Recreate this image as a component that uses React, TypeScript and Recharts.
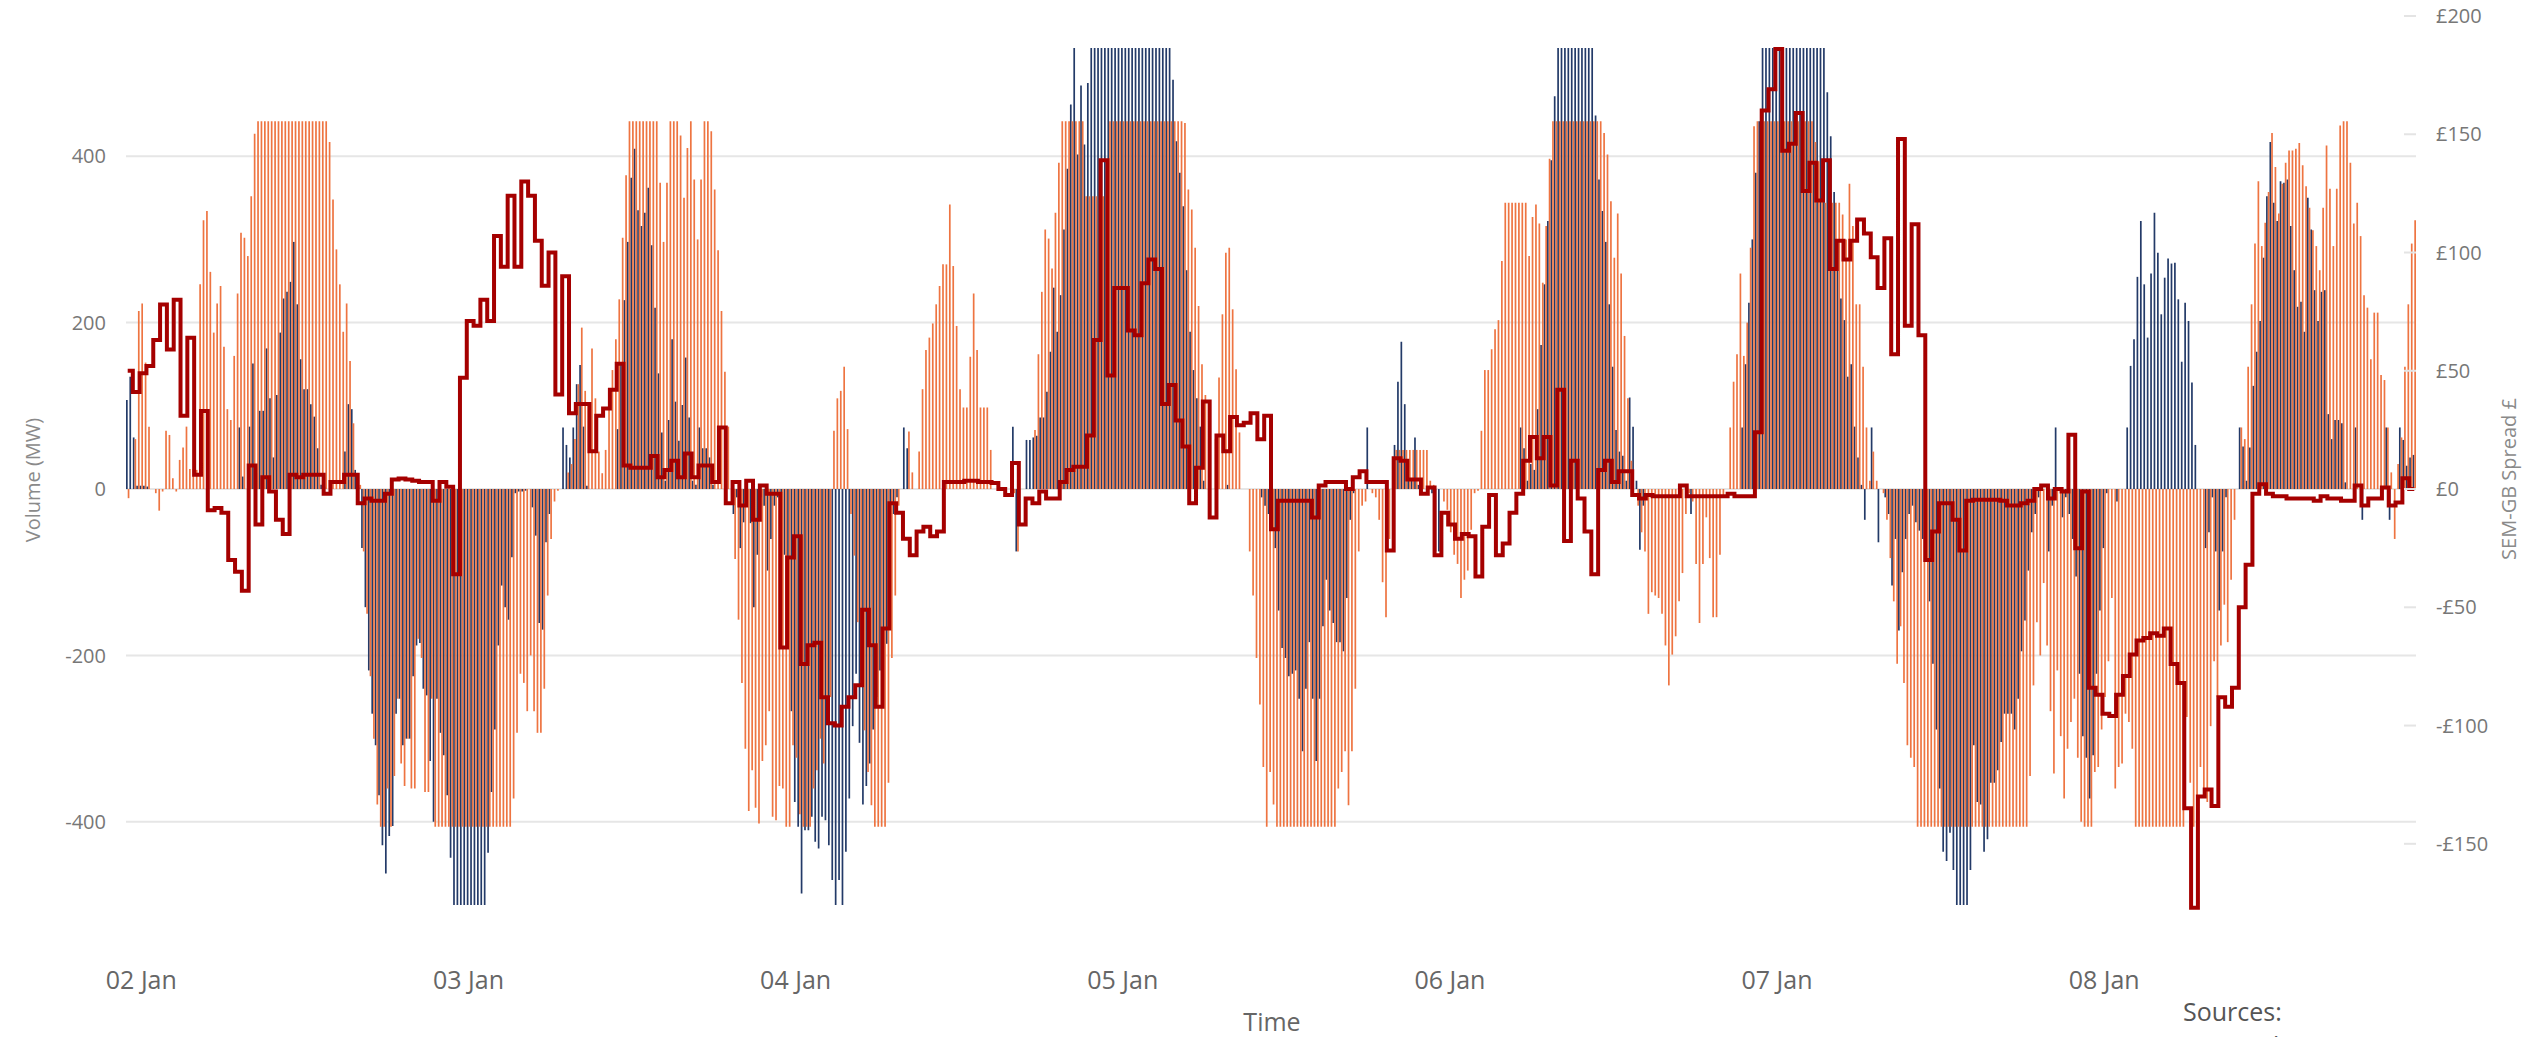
import { ComposedChart, Bar, Line, XAxis, YAxis, CartesianGrid } from 'recharts';

const FONT = '"Segoe UI", "Open Sans", "Noto Sans", sans-serif';

// x axis: quarter-hour slots starting 01 Jan 23:00
const DAY_LABELS = ['02 Jan', '03 Jan', '04 Jan', '05 Jan', '06 Jan', '07 Jan', '08 Jan'];
const DAY_TICK_SLOTS = [4, 100, 196, 292, 388, 484, 580];
const VOLUME_TICKS = [-400, -200, 0, 200, 400];
const SPREAD_TICKS = [-150, -100, -50, 0, 50, 100, 150, 200];
const VOLUME_DOMAIN = [-554, 568.5];
const SPREAD_DOMAIN = [-194.9, 200];

// volume (MW), dark blue series, one value per quarter hour
const BLUE = [
  107, 135, 62, 4, 4, 4, 3, 0, 0, 0, 0, 0, 0, 0, 0, 0, 0, 0, 0, 0, 0, 0, 0, 0,
  0, 0, 0, 0, 0, 0, 0, 0, 0, 74, 15, 0, 75, 151, 19, 94, 94, 169, 109, 38, 113, 188, 229, 237,
  249, 297, 222, 156, 120, 120, 102, 87, 49, 5, 3, 0, 0, 0, 0, 0, 45, 102, 96, 23, 2, -71, -142, -218,
  -270, -308, -368, -428, -462, -417, -405, -270, -252, -308, -300, -300, -225, -188, -185, -240, -248, -327, -400, -252, -293, -320, -368, -443,
  -500, -500, -500, -500, -500, -500, -500, -500, -500, -500, -437, -364, -289, -188, -116, -142, -157, -82, -5, -3, -3, -2, 0, -22,
  -56, -161, -169, -64, -30, 0, 0, 0, 74, 53, 38, 74, 126, 149, 75, 4, 0, 0, 0, 0, 0, 0, 0, 0,
  72, 150, 227, 297, 374, 409, 335, 316, 332, 362, 293, 218, 139, 68, 10, 83, 180, 105, 58, 101, 158, 86, 10, 5,
  74, 49, 49, 38, 5, 0, 0, 0, 0, 0, -30, -10, -71, -40, -20, -41, -142, -79, -10, -20, -98, -60, -20, -10,
  -60, -79, -90, -267, -376, -406, -486, -410, -410, -394, -424, -432, -394, -398, -428, -470, -500, -470, -500, -436, -372, -285, -222, -305,
  -379, -357, -330, -289, -250, -218, -169, -186, -60, -30, -10, 0, 74, 49, 0, 0, 0, 0, 0, 0, 0, 0, 0, 0,
  0, 0, 0, 0, 0, 0, 0, 0, 0, 0, 0, 0, 0, 0, 0, 0, 0, 0, 0, 0, 75, -75, 0, 0,
  59, 59, 62, 64, 86, 86, 117, 165, 242, 189, 233, 312, 385, 462, 530, 402, 485, 414, 488, 530, 530, 530, 530, 530,
  530, 530, 530, 530, 530, 530, 530, 530, 530, 530, 530, 530, 530, 530, 530, 530, 530, 530, 530, 492, 418, 380, 340, 263,
  189, 143, 109, 75, 10, 0, 0, 0, 0, 0, 0, 5, 0, 0, 0, 0, 0, 0, 0, 0, 0, -10, -20, -30,
  -50, -71, -146, -191, -203, -225, -222, -218, -252, -315, -240, -184, -252, -327, -252, -165, -109, -146, -161, -184, -184, -195, -131, -37,
  -5, 0, 0, 0, 74, 0, 0, 0, 0, 0, 0, 0, 53, 129, 177, 102, 29, 10, 62, 5, 0, 0, 0, -5,
  -75, -75, 0, 0, 0, 0, 0, 0, 0, 0, 0, 0, 0, 0, 0, 0, 0, 0, 0, 0, 0, 0, 0, 0,
  0, 74, 49, 10, 30, 23, 96, 173, 246, 322, 395, 472, 530, 530, 530, 530, 530, 530, 530, 530, 530, 530, 530, 449,
  372, 334, 297, 222, 147, 71, 45, 40, 10, 110, 75, 10, -73, -20, 0, 0, 0, 0, 0, 0, 0, 0, 0, 0,
  0, 0, 0, -30, 0, 0, 0, 0, 0, 0, 0, 0, 0, 0, 0, 0, 0, 0, 74, 150, 224, 300, 380, 442,
  530, 530, 530, 530, 530, 530, 530, 530, 530, 530, 530, 530, 530, 530, 530, 530, 530, 530, 530, 477, 424, 357, 297, 229,
  203, 135, 150, 75, 38, 5, -37, 0, 74, 0, -64, 0, -10, -30, -116, -60, -170, -100, -60, -30, -20, -40, -50, -60,
  -86, -135, -210, -289, -360, -436, -447, -413, -458, -500, -500, -500, -500, -458, -308, -376, -379, -436, -421, -353, -353, -338, -304, -270,
  -270, -270, -289, -252, -195, -158, -98, -52, -30, -10, 0, 0, -75, -20, 74, 0, -34, -10, -30, -60, -105, -222, -297, -323,
  -372, -320, -222, -146, -71, -5, 0, 0, -15, 0, 0, 74, 148, 180, 255, 322, 246, 182, 259, 332, 284, 210, 254, 277,
  271, 272, 228, 153, 224, 202, 128, 53, 0, 0, -71, -52, -10, -75, -146, -75, -10, 0, 0, 0, 74, 51, 10, 50,
  124, 165, 202, 278, 352, 417, 344, 322, 370, 368, 372, 316, 263, 219, 225, 189, 350, 312, 239, 202, 237, 239, 90, 60,
  83, 83, 79, 8, 0, 0, 74, 0, -37, 0, 0, 0, 0, 0, 0, 74, -37, 0, 0, 74, 59, 28, 38, 41,
];

// volume (MW), orange series, one value per quarter hour
const ORANGE = [
  -11, 0, 60, 214, 223, 152, 75, 0, -5, -26, -3, 70, 65, 13, -3, 35, 50, 75, 24, 24, 23, 246, 323, 334,
  261, 188, 223, 244, 171, 96, 83, 160, 235, 308, 302, 280, 352, 427, 442, 442, 442, 442, 442, 442, 442, 442, 442, 442,
  442, 442, 442, 442, 442, 442, 442, 442, 442, 442, 442, 417, 348, 288, 246, 189, 223, 154, 79, 10, 5, -75, -150, -225,
  -300, -379, -406, -406, -360, -406, -345, -252, -330, -357, -300, -360, -360, -180, -203, -364, -364, -252, -406, -406, -406, -406, -406, -406,
  -406, -406, -406, -406, -406, -406, -406, -406, -406, -406, -406, -406, -406, -406, -406, -406, -406, -372, -293, -222, -233, -267, -200, -267,
  -293, -293, -240, -128, -60, -15, -2, 0, 0, 20, 30, 60, 126, 194, 118, 104, 169, 109, 45, 19, 47, 98, 143, 180,
  228, 302, 377, 442, 442, 442, 442, 442, 442, 442, 442, 442, 368, 297, 368, 442, 442, 442, 425, 350, 410, 442, 372, 300,
  372, 442, 442, 430, 360, 287, 214, 141, 75, 0, -84, -157, -233, -312, -387, -338, -383, -402, -327, -308, -267, -394, -398, -357,
  -360, -406, -406, -308, -323, -391, -406, -406, -406, -360, -338, -300, -330, -280, -250, 70, 109, 118, 147, 72, -30, -80, -160, -230,
  -290, -340, -380, -406, -406, -406, -406, -353, -203, -128, -20, 0, 0, 69, 20, 0, 45, 120, 167, 182, 199, 222, 244, 270,
  270, 342, 268, 196, 120, 98, 98, 159, 235, 167, 98, 98, 98, 47, 0, 0, 0, 0, 0, 0, -5, -75, 0, 0,
  0, 0, 71, 162, 237, 312, 301, 265, 332, 392, 442, 442, 442, 442, 442, 442, 442, 352, 352, 352, 352, 352, 352, 352,
  442, 442, 442, 442, 442, 442, 442, 442, 442, 442, 442, 442, 442, 442, 442, 442, 442, 442, 442, 442, 442, 442, 440, 360,
  336, 290, 220, 150, 113, 60, 0, 60, 134, 210, 284, 290, 216, 144, 68, 0, 0, -75, -128, -203, -259, -334, -406, -340,
  -379, -406, -406, -406, -406, -406, -406, -406, -406, -406, -406, -406, -406, -406, -406, -406, -406, -406, -406, -360, -340, -315, -380, -315,
  -240, -75, -20, -15, 0, -5, -10, -37, -112, -154, -60, -10, 47, 47, 47, 47, 47, 47, 47, 47, 47, 47, 10, 5,
  0, 0, -15, -25, -52, -79, -90, -131, -109, -98, -49, -5, -2, 70, 143, 143, 168, 192, 203, 274, 344, 344, 344, 344,
  344, 344, 344, 280, 327, 342, 319, 248, 316, 397, 442, 442, 442, 442, 442, 442, 442, 442, 442, 442, 442, 442, 442, 442,
  442, 428, 402, 346, 278, 331, 259, 184, 109, 34, 0, -20, -52, -75, -150, -124, -128, -131, -150, -188, -236, -199, -177, -135,
  -101, -30, -5, -15, -90, -161, -90, -34, -83, -154, -154, -79, -10, 0, 74, 129, 162, 259, 160, 200, 290, 436, 442, 442,
  442, 442, 442, 442, 442, 442, 442, 442, 442, 442, 442, 442, 442, 442, 442, 417, 394, 380, 344, 344, 344, 344, 344, 330,
  300, 367, 316, 222, 222, 147, 74, 10, 45, 10, 0, -5, -37, -83, -135, -210, -165, -233, -308, -323, -334, -406, -406, -406,
  -406, -406, -406, -406, -406, -406, -406, -406, -406, -406, -406, -406, -406, -406, -406, -406, -406, -406, -406, -406, -406, -406, -406, -406,
  -406, -406, -406, -406, -406, -406, -345, -236, -160, -200, -113, -188, -267, -342, -218, -297, -372, -312, -280, -252, -323, -400, -406, -406,
  -406, -340, -334, -289, -250, -207, -131, -360, -334, -330, -270, -280, -312, -406, -406, -406, -406, -406, -406, -406, -406, -406, -406, -406,
  -406, -406, -406, -406, -274, -353, -406, -406, -334, -360, -376, -285, -207, -250, -188, -139, -184, -109, -37, 0, 74, 60, 147, 222,
  295, 370, 292, 320, 357, 428, 387, 331, 367, 392, 407, 407, 409, 416, 389, 364, 338, 311, 292, 263, 338, 413, 361, 292,
  361, 437, 442, 442, 392, 319, 344, 304, 233, 218, 156, 212, 212, 137, 131, 74, 20, -60, 30, 62, 147, 222, 295, 323,
];

// SEM-GB spread (£), one value per half hour
const SPREAD = [
  50, 41, 49, 52, 63, 78, 59, 80, 31, 64, 6, 33, -9, -8, -10, -30, -35, -43, 10, -15, 5, -1, -13, -19,
  6, 5, 6, 6, 6, -2, 3, 3, 6, 6, -6, -4, -5, -5, -2, 4, 4.5, 4, 3.5, 3, 3, -5, 3, 1,
  -36, 47, 71, 69, 80, 71, 107, 94, 124, 94, 130, 124, 105, 86, 100, 40, 90, 32, 36, 36, 16, 31, 34, 42,
  53, 10, 9, 9, 9, 14, 5, 8, 12, 5, 15, 5, 10, 10, 3, 26, -6, 3, -7, 3.5, -13, 1.5, -2, -2,
  -67, -29, -20, -74, -66, -65, -88, -99, -100, -92, -88, -83, -51, -66, -92, -59, -6, -10, -21, -28, -18, -16, -20, -18,
  3, 3, 3, 3.5, 3.5, 3, 3, 2.5, 0, -2.5, 11, -15, -4, -6, -1, -4, -4, 3, 8, 9.4, 9.4, 22.6, 63, 139,
  48, 85, 85, 67, 65, 87, 97, 93, 36, 44, 29, 18, -6, 9, 37, -12, 22.6, 16, 30.5, 27, 28, 32, 21, 31,
  -17, -5, -5, -5, -5, -5, -12, 1.5, 3, 3, 3, 0, 5, 7.5, 3, 3, 3, -26, 13, 12, 4, 4, -2, 0.6,
  -28, -10, -15, -21, -19, -20, -37, -16, -2.5, -28, -23, -10, -2, 12, 22, 13, 22, 1.5, 42, -22, 12, -4, -18, -36,
  8, 12, 3, 7.5, 7.5, -2.5, -4, -2.5, -3, -3, -3, -3, 1.5, -3, -3, -3, -3, -3, -3, -2, -3, -3, -3, 24,
  160, 169, 186, 143, 146, 159, 126, 138, 122, 139, 93, 105, 97, 105, 114, 108, 98, 85, 106, 57, 148, 69, 112, 65,
  -30, -18, -6, -6, -13, -26, -5, -4.5, -4.5, -4.5, -4.5, -5, -7, -7, -6, -5, 0, 1.5, -4, 0, -1, 23, -25, -1,
  -84, -87, -95, -96, -87, -79, -70, -64, -63, -61, -62, -59, -74, -82, -135, -177, -130, -127, -134, -88, -92, -84, -50, -32,
  -2, 2, -2, -3, -3, -4, -4, -4, -4, -5, -3, -4, -4, -5, -5, 1.5, -7, -4, -4, 0.6, -7, -5.7, 4.6, 0,
];

const data = BLUE.map((blue, slot) => ({
  slot,
  blue,
  orange: ORANGE[slot],
  spread: SPREAD[Math.floor(slot / 2)],
}));

const dayLabel = (slot: number) => {
  const i = DAY_TICK_SLOTS.indexOf(slot);
  return i >= 0 ? DAY_LABELS[i] : '';
};

const poundLabel = (v: number) => (v < 0 ? `-£${-v}` : `£${v}`);

function SpreadTick(props: any) {
  const { x, y, payload } = props;
  return (
    <g>
      <line x1={x - 32} x2={x - 20} y1={y} y2={y} stroke="#e4e4e4" strokeWidth={2} />
      <text x={x} y={y} dy="0.36em" textAnchor="start" fontSize={20} fill="#777" fontFamily={FONT}>
        {poundLabel(payload.value)}
      </text>
    </g>
  );
}

// horizontal grid only at the volume ticks, behind the bars
const volumeGridLines = (props: any) => {
  const top = props?.offset?.top ?? 16;
  const height = props?.offset?.height ?? 934;
  const [lo, hi] = VOLUME_DOMAIN;
  return VOLUME_TICKS.map((v) => top + ((hi - v) / (hi - lo)) * height);
};

const titleStyle: React.CSSProperties = {
  position: 'absolute',
  fontFamily: FONT,
  whiteSpace: 'nowrap',
  lineHeight: 1,
};

export default function App() {
  return (
    <div style={{ position: 'absolute', left: 0, top: 0, width: 2534, height: 1037, overflow: 'hidden', background: '#fff' }}>
      <ComposedChart
        width={2534}
        height={1037}
        data={data}
        margin={{ top: 16, right: 18, bottom: 27, left: 16 }}
        barGap={0}
      >
        <CartesianGrid
          vertical={false}
          stroke="#e6e6e6"
          strokeWidth={2}
          horizontalCoordinatesGenerator={volumeGridLines}
        />
        <XAxis
          dataKey="slot"
          interval={0}
          tickFormatter={dayLabel}
          tickLine={false}
          axisLine={false}
          tickSize={0}
          tickMargin={21}
          height={60}
          tick={{ fontSize: 25, fill: '#666', fontFamily: FONT }}
        />
        <YAxis
          yAxisId="left"
          width={110}
          domain={VOLUME_DOMAIN}
          allowDataOverflow
          ticks={VOLUME_TICKS}
          tickLine={false}
          axisLine={false}
          tickSize={0}
          tickMargin={20}
          tick={{ fontSize: 20, fill: '#777', fontFamily: FONT }}
        />
        <YAxis
          yAxisId="right"
          orientation="right"
          width={100}
          domain={SPREAD_DOMAIN}
          allowDataOverflow
          ticks={SPREAD_TICKS}
          tickLine={false}
          axisLine={false}
          tickSize={0}
          tickMargin={20}
          tick={<SpreadTick />}
        />
        <Bar yAxisId="left" dataKey="blue" fill="#233a68" barSize={1.7} isAnimationActive={false} />
        <Bar yAxisId="left" dataKey="orange" fill="#ee7441" barSize={1.7} isAnimationActive={false} />
        <Line
          yAxisId="right"
          type="step"
          dataKey="spread"
          stroke="#a50000"
          strokeWidth={4}
          strokeLinejoin="miter"
          dot={false}
          activeDot={false}
          isAnimationActive={false}
        />
      </ComposedChart>

      <div style={{ ...titleStyle, left: 33, top: 480, fontSize: 20, color: '#8a8a8a', transform: 'translate(-50%, -50%) rotate(-90deg)' }}>
        Volume (MW)
      </div>
      <div style={{ ...titleStyle, left: 2509, top: 479, fontSize: 20, color: '#8a8a8a', transform: 'translate(-50%, -50%) rotate(-90deg)' }}>
        SEM-GB Spread £
      </div>
      <div style={{ ...titleStyle, left: 1272, top: 1021, fontSize: 25, color: '#666', transform: 'translate(-50%, -50%)' }}>
        Time
      </div>
      <div style={{ ...titleStyle, left: 2183, top: 994, fontSize: 25, color: '#555', lineHeight: '34px' }}>
        Sources:
        <br />
        • EirGrid
      </div>
    </div>
  );
}
